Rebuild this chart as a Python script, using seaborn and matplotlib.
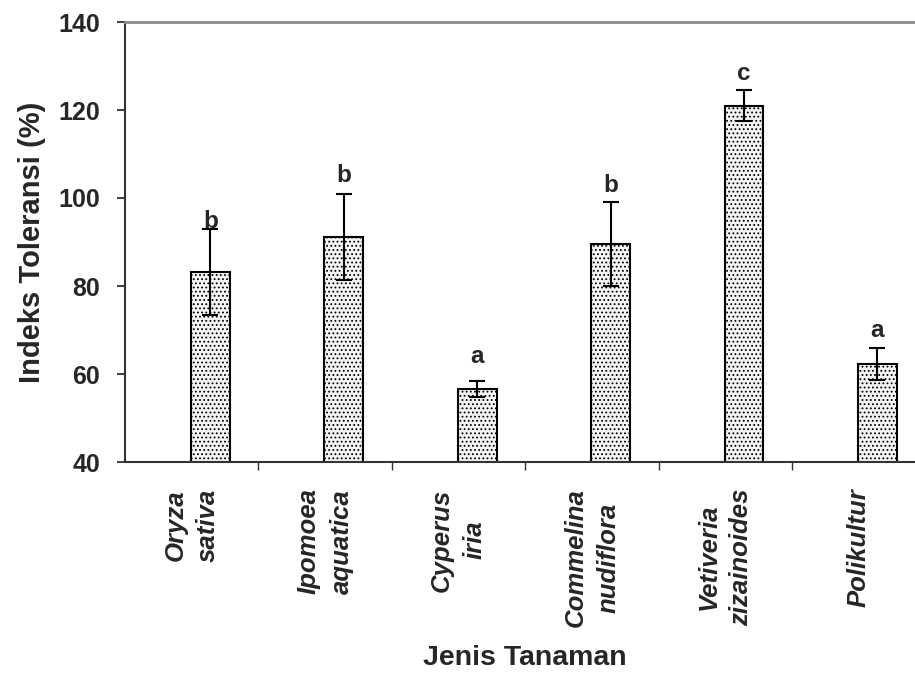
import numpy as np
import pandas as pd
import matplotlib
matplotlib.use('Agg')
import matplotlib.pyplot as plt
import seaborn as sns

sns.set_style('ticks')
plt.rcParams['font.family'] = ['Liberation Sans', 'DejaVu Sans']
plt.rcParams['hatch.color'] = '#606060'
plt.rcParams['hatch.linewidth'] = 0.8

# data
species = ['Oryza\nsativa', 'Ipomoea\naquatica', 'Cyperus\niria',
           'Commelina\nnudiflora', 'Vetiveria\nzizainoides', 'Polikultur']
tolerance = [83.2, 91.1, 56.6, 89.5, 121.0, 62.3]
std_err = [9.8, 9.7, 1.9, 9.5, 3.5, 3.7]
letters = ['b', 'b', 'a', 'b', 'c', 'a']
letter_y = [92.0, 102.5, 61.3, 100.2, 125.6, 67.2]

df = pd.DataFrame({'species': species, 'tolerance': tolerance})

fig = plt.figure(figsize=(9.15, 6.73), dpi=100)
ax = fig.add_axes([125 / 915, 211 / 673, 790 / 915, 440 / 673])

sns.barplot(data=df, x='species', y='tolerance', order=species,
            color='#f4f4f4', saturation=1, width=0.29,
            edgecolor='black', linewidth=1.5, hatch='....',
            errorbar=None, ax=ax)

centers = np.array([p.get_x() + p.get_width() / 2 for p in ax.patches])

ax.errorbar(centers, tolerance, yerr=std_err, fmt='none', ecolor='black',
            elinewidth=1.5, capsize=6, capthick=1.5, zorder=5)

for xc, ly, lt in zip(centers, letter_y, letters):
    ax.text(xc, ly, lt, ha='center', va='bottom', fontsize=17.5,
            fontweight='bold')

# category labels sit left of the bars, tick marks between categories
shift = 0.14
ax.set_xticks(centers - shift)
ax.set_xticklabels(species, rotation=90, fontsize=18.5, fontweight='bold',
                   fontstyle='italic', multialignment='center',
                   linespacing=1.45)
ax.set_xticks(centers - shift + 0.5, minor=True)
ax.tick_params(axis='x', which='major', length=0, pad=19)
ax.tick_params(axis='x', which='minor', length=6, width=1.0,
               direction='out', color='#333333')
ax.set_xlim(centers[0] - shift - 0.5, centers[0] - shift - 0.5 + 790 / 133.4)

ax.set_ylim(40, 140)
ax.set_yticks(np.arange(40, 141, 20))
ax.tick_params(axis='y', length=6, width=1.3, direction='out', pad=12,
               labelsize=18, color='#333333')
for t in ax.get_yticklabels():
    t.set_fontweight('bold')

ax.set_ylabel('Indeks Toleransi (%)', fontsize=21, fontweight='bold')
ax.yaxis.set_label_coords(-0.1, 0.5)
ax.set_xlabel('Jenis Tanaman', fontsize=20.5, fontweight='bold')
ax.xaxis.set_label_coords(0.506, -0.415)

ax.spines['right'].set_visible(False)
ax.spines['top'].set_color('#8c8c8c')
ax.spines['top'].set_linewidth(2)
ax.spines['left'].set_color('#333333')
ax.spines['left'].set_linewidth(1.5)
ax.spines['bottom'].set_color('#333333')
ax.spines['bottom'].set_linewidth(1.5)
ax.grid(False)

fig.savefig('out.png', dpi=100)
